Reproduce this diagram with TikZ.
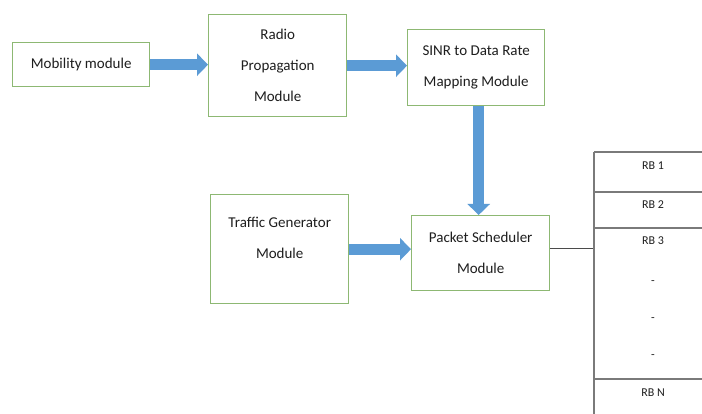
\documentclass[tikz,border=0pt]{standalone}
\usepackage{fontspec}
\setmainfont{Carlito}
\usetikzlibrary{arrows.meta,calc}
\definecolor{boxgreen}{HTML}{8DB873}
\definecolor{arrowblue}{HTML}{5B9BD5}
\definecolor{txt}{HTML}{1E1E1E}
\definecolor{rbgray}{HTML}{7A7A7A}
\tikzset{
  modbox/.style={draw=boxgreen, line width=1.4pt, fill=white, text=txt, align=center,
    font=\fontsize{15}{31}\selectfont, inner sep=0pt, anchor=north west},
  bigarrow/.style={draw=arrowblue, line width=11pt,
    -{Triangle[width=22pt,length=11pt]}, color=arrowblue},
  rbline/.style={draw=rbgray, line width=1.5pt},
  rblabel/.style={text=txt, font=\fontsize{12}{12}\selectfont, inner sep=0pt},
  thinlink/.style={draw=txt!80, line width=0.9pt}
}
\begin{document}
\begin{tikzpicture}[x=1pt,y=-1pt]
\useasboundingbox (0,0) rectangle (702,414);
% module boxes
\node[modbox, minimum width=137pt, minimum height=44pt] (mob) at (12,42) {Mobility module};
\node[modbox, minimum width=138pt, minimum height=102pt] (radio) at (208,14) {Radio\\Propagation\\Module};
\node[modbox, minimum width=137pt, minimum height=76pt] (sinr) at (407,29) {SINR to Data Rate\\Mapping Module};
\node[modbox, minimum width=138pt, minimum height=109pt] (traffic) at (210,194) {};
\node[text=txt, align=center, font=\fontsize{15}{31}\selectfont, inner sep=0pt] (traffictext) at ($(traffic.center)+(0,-11)$) {Traffic Generator\\Module};
\node[modbox, minimum width=138pt, minimum height=75pt] (packet) at (411,215) {Packet Scheduler\\Module};
% blue arrows
\draw[bigarrow] (mob.east) -- (radio.west |- mob.east);
\draw[bigarrow] (radio.east) -- (sinr.west |- radio.east);
\draw[bigarrow] ($(sinr.south)+(2.5,0)$) -- ($(sinr.south |- packet.north)+(2.5,0)$);
\draw[bigarrow] (traffic.east) -- (packet.west |- traffic.east);
% resource block column
\coordinate (rbjoin) at (594,248);
\coordinate (rbtop) at (594,152);
\coordinate (rbbot) at (594,414);
\draw[thinlink] (packet.east |- rbjoin) -- (rbjoin);
\draw[rbline, line width=2pt] (rbtop) -- (rbbot);
\foreach \yy in {152,192,228,379} {
  \draw[rbline] (594,\yy) -- (702,\yy);
}
\node[rblabel] (rb1) at (653,166) {RB 1};
\node[rblabel] (rb2) at (653,205) {RB 2};
\node[rblabel] (rb3) at (653,241) {RB 3};
\node[rblabel] (d1) at (653,283) {-};
\node[rblabel] (d2) at (653,320) {-};
\node[rblabel] (d3) at (653,357) {-};
\node[rblabel] (rbn) at (653,393) {RB N};
\end{tikzpicture}
\end{document}
